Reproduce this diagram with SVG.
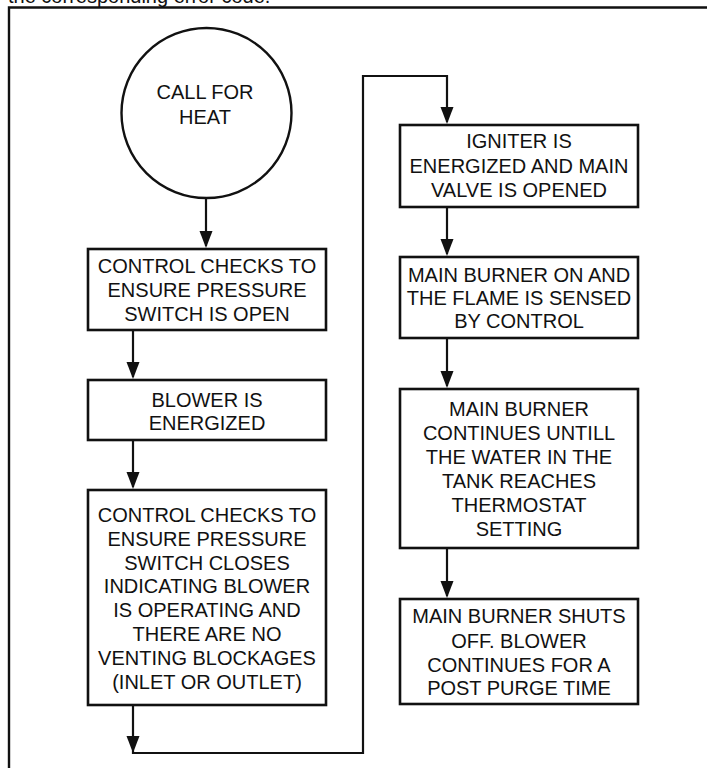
<svg xmlns="http://www.w3.org/2000/svg" width="707" height="768" viewBox="0 0 707 768">
<style>
  .box { fill: #fff; stroke: #111; stroke-width: 2.6; }
  .t { font-family: "Liberation Sans", Arial, sans-serif; font-size: 20px; fill: #111; text-anchor: middle; }
  .tl { font-family: "Liberation Sans", Arial, sans-serif; font-size: 20px; fill: #111; }
  .c { fill: none; stroke: #111; stroke-width: 2.2; }
  .ah { fill: #111; }
</style>
<rect width="707" height="768" fill="#fff"/>
<text class="tl" x="8" y="3">the corresponding error code.</text>
<path d="M9,768 V7.5 H707" fill="none" stroke="#111" stroke-width="2.4"/>

<g id="connectors">
  <path class="c" d="M206,198 V246"/>
  <polygon class="ah" points="199.5,231 212.5,231 206,248"/>
  <path class="c" d="M133,331 V377"/>
  <polygon class="ah" points="126.5,362 139.5,362 133,379"/>
  <path class="c" d="M133,440 V487"/>
  <polygon class="ah" points="126.5,472 139.5,472 133,489"/>
  <path class="c" d="M133,705 V753 H363 V76 H447 V122"/>
  <polygon class="ah" points="126.5,736 139.5,736 133,753"/>
  <polygon class="ah" points="440.5,107 453.5,107 447,124"/>
  <path class="c" d="M447,207 V254"/>
  <polygon class="ah" points="440.5,239 453.5,239 447,256"/>
  <path class="c" d="M447,338 V386"/>
  <polygon class="ah" points="440.5,371 453.5,371 447,388"/>
  <path class="c" d="M447,548 V596"/>
  <polygon class="ah" points="440.5,581 453.5,581 447,598"/>
</g>

<g id="start">
  <circle cx="206.5" cy="113" r="85" fill="#fff" stroke="#111" stroke-width="2.4"/>
  <text class="t" x="205" y="99">CALL FOR</text>
  <text class="t" x="205" y="124">HEAT</text>
</g>

<g id="check-open">
  <rect class="box" x="88" y="249" width="238" height="81"/>
  <text class="t" x="207" y="273">CONTROL CHECKS TO</text>
  <text class="t" x="207" y="297">ENSURE PRESSURE</text>
  <text class="t" x="207" y="321">SWITCH IS OPEN</text>
</g>

<g id="blower">
  <rect class="box" x="88" y="380" width="238" height="60"/>
  <text class="t" x="207" y="407">BLOWER IS</text>
  <text class="t" x="207" y="430">ENERGIZED</text>
</g>

<g id="check-close">
  <rect class="box" x="88" y="490" width="238" height="215"/>
  <text class="t" x="207" y="522">CONTROL CHECKS TO</text>
  <text class="t" x="207" y="546">ENSURE PRESSURE</text>
  <text class="t" x="207" y="570">SWITCH CLOSES</text>
  <text class="t" x="207" y="593">INDICATING BLOWER</text>
  <text class="t" x="207" y="617">IS OPERATING AND</text>
  <text class="t" x="207" y="641">THERE ARE NO</text>
  <text class="t" x="207" y="665">VENTING BLOCKAGES</text>
  <text class="t" x="207" y="689">(INLET OR OUTLET)</text>
</g>

<g id="igniter">
  <rect class="box" x="400" y="125" width="238" height="82"/>
  <text class="t" x="519" y="148">IGNITER IS</text>
  <text class="t" x="519" y="173">ENERGIZED AND MAIN</text>
  <text class="t" x="519" y="197">VALVE IS OPENED</text>
</g>

<g id="burner-on">
  <rect class="box" x="400" y="257" width="238" height="81"/>
  <text class="t" x="519" y="282">MAIN BURNER ON AND</text>
  <text class="t" x="519" y="305">THE FLAME IS SENSED</text>
  <text class="t" x="519" y="328">BY CONTROL</text>
</g>

<g id="burner-continues">
  <rect class="box" x="400" y="389" width="238" height="159"/>
  <text class="t" x="519" y="416">MAIN BURNER</text>
  <text class="t" x="519" y="440">CONTINUES UNTILL</text>
  <text class="t" x="519" y="464">THE WATER IN THE</text>
  <text class="t" x="519" y="488">TANK REACHES</text>
  <text class="t" x="519" y="512">THERMOSTAT</text>
  <text class="t" x="519" y="536">SETTING</text>
</g>

<g id="burner-off">
  <rect class="box" x="400" y="599" width="238" height="105"/>
  <text class="t" x="519" y="623">MAIN BURNER SHUTS</text>
  <text class="t" x="519" y="648">OFF. BLOWER</text>
  <text class="t" x="519" y="672">CONTINUES FOR A</text>
  <text class="t" x="519" y="695">POST PURGE TIME</text>
</g>
</svg>
